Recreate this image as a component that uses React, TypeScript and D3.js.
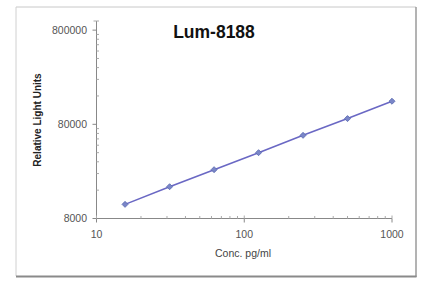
import React from "react";
import * as d3 from "d3";

const concentrations = [15.6, 31.25, 62.5, 125, 250, 500, 1000];
const rlu = [11300, 17400, 26400, 40000, 61100, 92000, 140600];
const yTickValues = [8000, 80000, 800000];
const yTickLabels = ["8000", "80000", "800000"];
const xTickValues = [10, 100, 1000];
const xTickLabels = ["10", "100", "1000"];
const title = "Lum-8188";
const xTitle = "Conc. pg/ml";
const yTitle = "Relative Light Units";

const W = 432;
const H = 290;
const font = "'Liberation Sans', Arial, sans-serif";

export default function App() {
  const x = d3.scaleLog().domain([10, 1000]).range([96.5, 392]);
  const y = d3.scaleLog().domain([8000, 1000000]).range([218.5, 21]);

  const xMinor: number[] = [];
  [10, 100].forEach((d) => {
    for (let k = 2; k <= 9; k++) xMinor.push(d * k);
  });
  const yMinor: number[] = [];
  [8000, 80000].forEach((d) => {
    for (let k = 2; k <= 9; k++) yMinor.push(d * k);
  });
  yMinor.push(800000 * 1.25);

  const line = d3
    .line<number>()
    .x((_, i) => x(concentrations[i]))
    .y((d) => y(d));

  const marker = d3.symbol().type(d3.symbolSquare).size(18)() as string;

  return (
    <svg
      width={W}
      height={H}
      style={{ position: "absolute", left: 0, top: 0, background: "#fff" }}
    >
      {/* frame */}
      <line x1={16} y1={7} x2={416} y2={7} stroke="#c8c8c8" strokeWidth={1} />
      <line x1={16} y1={7} x2={16} y2={276} stroke="#d0d0d0" strokeWidth={1} />
      <line x1={416} y1={7} x2={416} y2={277} stroke="#9a9a9a" strokeWidth={1.5} />
      <line x1={16} y1={276.5} x2={416.5} y2={276.5} stroke="#8a8a8a" strokeWidth={2} />

      {/* title */}
      <text
        x={214}
        y={38}
        textAnchor="middle"
        fontFamily={font}
        fontWeight="bold"
        fontSize={17.5}
        fill="#111"
      >
        {title}
      </text>

      {/* axes */}
      <line x1={x(10)} y1={y(1000000)} x2={x(10)} y2={y(8000)} stroke="#888" strokeWidth={1} />
      <line x1={x(10)} y1={y(8000)} x2={x(1000)} y2={y(8000)} stroke="#888" strokeWidth={1} />

      {yTickValues.map((v, i) => (
        <g key={"yt" + i}>
          <line x1={x(10) - 4} x2={x(10)} y1={y(v)} y2={y(v)} stroke="#888" />
          <text
            x={87}
            y={y(v) + 3.5}
            textAnchor="end"
            fontFamily={font}
            fontSize={10.5}
            fill="#555"
          >
            {yTickLabels[i]}
          </text>
        </g>
      ))}
      {yMinor.map((v, i) => (
        <line key={"ym" + i} x1={x(10)} x2={x(10) + 2.5} y1={y(v)} y2={y(v)} stroke="#aaa" />
      ))}
      <line x1={x(10) - 3} x2={x(10)} y1={y(1000000)} y2={y(1000000)} stroke="#aaa" />

      {xTickValues.map((v, i) => (
        <g key={"xt" + i}>
          <line x1={x(v)} x2={x(v)} y1={y(8000)} y2={y(8000) + 4} stroke="#888" />
          <line x1={x(v)} x2={x(v)} y1={y(8000) - 3} y2={y(8000)} stroke="#aaa" />
          <text
            x={x(v)}
            y={237.5}
            textAnchor="middle"
            fontFamily={font}
            fontSize={10.5}
            fill="#555"
          >
            {xTickLabels[i]}
          </text>
        </g>
      ))}
      {xMinor.map((v, i) => (
        <line key={"xm" + i} x1={x(v)} x2={x(v)} y1={y(8000) - 2.5} y2={y(8000)} stroke="#aaa" />
      ))}

      {/* axis titles */}
      <text
        x={243}
        y={257}
        textAnchor="middle"
        fontFamily={font}
        fontSize={10.5}
        fill="#444"
      >
        {xTitle}
      </text>
      <text
        transform={`translate(41,120) rotate(-90)`}
        textAnchor="middle"
        fontFamily={font}
        fontWeight="bold"
        fontSize={10}
        fill="#222"
      >
        {yTitle}
      </text>

      {/* series */}
      <path d={line(rlu) || ""} fill="none" stroke="#6a68c4" strokeWidth={1.6} />
      {rlu.map((v, i) => (
        <path
          key={"pt" + i}
          d={marker}
          transform={`translate(${x(concentrations[i])},${y(v)}) rotate(45)`}
          fill="#7a86c8"
          stroke="#5a6ab0"
          strokeWidth={0.8}
        />
      ))}
    </svg>
  );
}
